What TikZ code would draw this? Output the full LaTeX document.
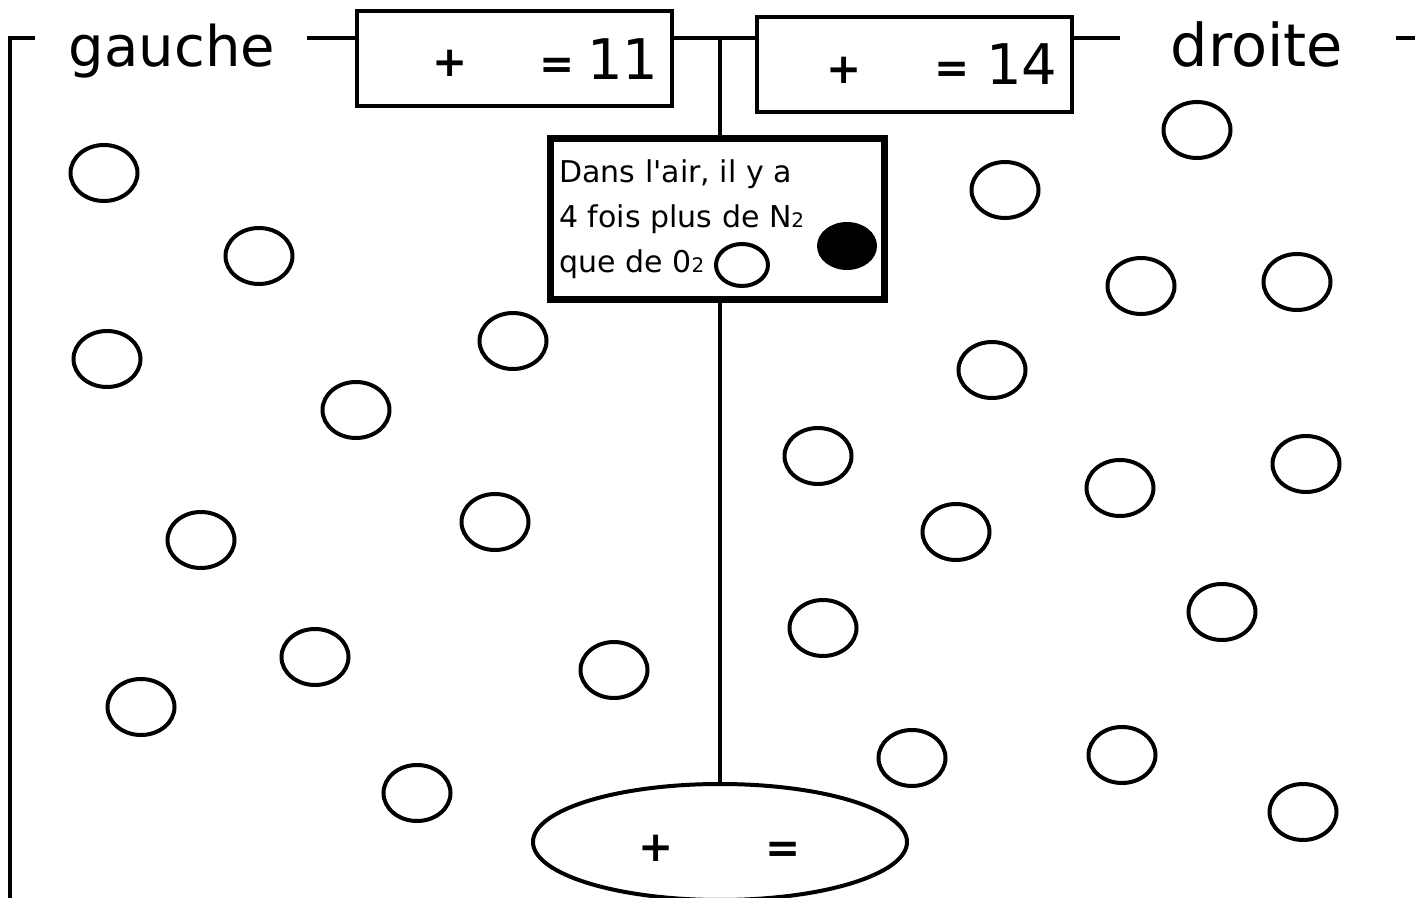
\documentclass[tikz,border=0pt]{standalone}
\usepackage{fontspec}
\setmainfont{DejaVu Sans}
\usepackage{tikz}
\usetikzlibrary{calc,shapes.geometric}
\definecolor{azote}{RGB}{0,0,0}

\tikzset{
    boite/.style={draw, line width=2pt, minimum width=157.5pt, minimum height=47.5pt, inner sep=0pt},
    titre/.style={font=\fontsize{28}{30}\selectfont, inner sep=0pt, anchor=base},
    signe/.style={font=\fontsize{21}{24}\selectfont\bfseries, inner sep=0pt},
    nombre/.style={font=\fontsize{28}{30}\selectfont, inner sep=0pt},
    phrase/.style={font=\fontsize{15}{18}\selectfont, inner sep=0pt, anchor=base west},
    ligne/.style={line width=2pt},
    molecule/.style={line width=2pt},
}
\newcommand{\petit}[1]{{\fontsize{10}{10}\selectfont #1}}

\begin{document}
\begin{tikzpicture}[x=0.5pt, y=-0.5pt]
    %% Cadre
    \useasboundingbox (0,0) rectangle (1415,898);
    \coordinate (milieu) at (720,38);
    \coordinate (coin) at (10,38);
    \coordinate (bas) at (10,898);
    \coordinate (bord) at (1415,38);
    \node[titre] (gauche) at (172,67) {gauche};
    \node[titre, font=\fontsize{29.5}{30}\selectfont] (droite) at (1257,67) {droite};
    \node[boite] (b1) at (514.5,59) {};
    \node[boite] (b2) at (914,65) {};
    \node[draw, line width=3.5pt, minimum width=167pt, minimum height=80.5pt, inner sep=0pt] (info) at (717.5,219) {};
    \node[draw, ellipse, line width=2pt, minimum width=187pt, minimum height=58pt, inner sep=0pt] (somme) at (720,842) {};
    %% Traits
    \draw[ligne] (bas) to (coin) to ($(gauche.west |- coin)+(-34,0)$);
    \draw[ligne] ($(gauche.east |- milieu)+(32,0)$) to (b1.west |- milieu);
    \draw[ligne] (b1.east |- milieu) to (b2.west |- milieu);
    \draw[ligne] (b2.east |- milieu) to ($(droite.west |- milieu)+(-50,0)$);
    \draw[ligne] ($(droite.east |- milieu)+(52,0)$) to (bord);
    \draw[line width=1.6pt] (milieu) to (milieu |- info.north);
    \draw[line width=1.6pt] (milieu |- info.south) to (milieu |- somme.north);
    %% Sommes
    \node[signe] (p1) at (450,63) {+};
    \node[signe] (e1) at (557,68) {=};
    \node[nombre] (n1) at (623,59) {11};
    \node[signe] (p2) at (844,70) {+};
    \node[signe] (e2) at (952,72) {=};
    \node[nombre] (n2) at (1022,64) {14};
    \node[signe] (p3) at (656,848) {+};
    \node[signe] (e3) at (783,852) {=};
    %% Legende
    \node[phrase] (l1) at (559,183) {Dans l\textquotesingle air, il y a};
    \node[phrase] (l2) at (559,228) {4 fois plus de N\petit{2}};
    \node[phrase] (l3) at (559,273) {que de 0\petit{2}};
    \draw[molecule] (742,265) ellipse (13pt and 10.5pt);
    \fill[azote] (847,246) ellipse (15pt and 12pt);
    %% Molecules
    \foreach \x/\y in {104/173, 259/256, 107/359, 513/341, 356/410, 201/540,
                       495/522, 315/657, 141/707, 614/670, 417/793}
    {
        \draw[molecule] (\x,\y) ellipse (16.75pt and 14pt);
    }
    \foreach \x/\y in {1197/130, 1005/190, 1141/286, 1297/282, 992/370, 818/456,
                       1306/464, 1120/488, 956/532, 1222/612, 823/628,
                       912/758, 1122/755, 1303/812}
    {
        \draw[molecule] (\x,\y) ellipse (16.75pt and 14pt);
    }
\end{tikzpicture}
\end{document}
